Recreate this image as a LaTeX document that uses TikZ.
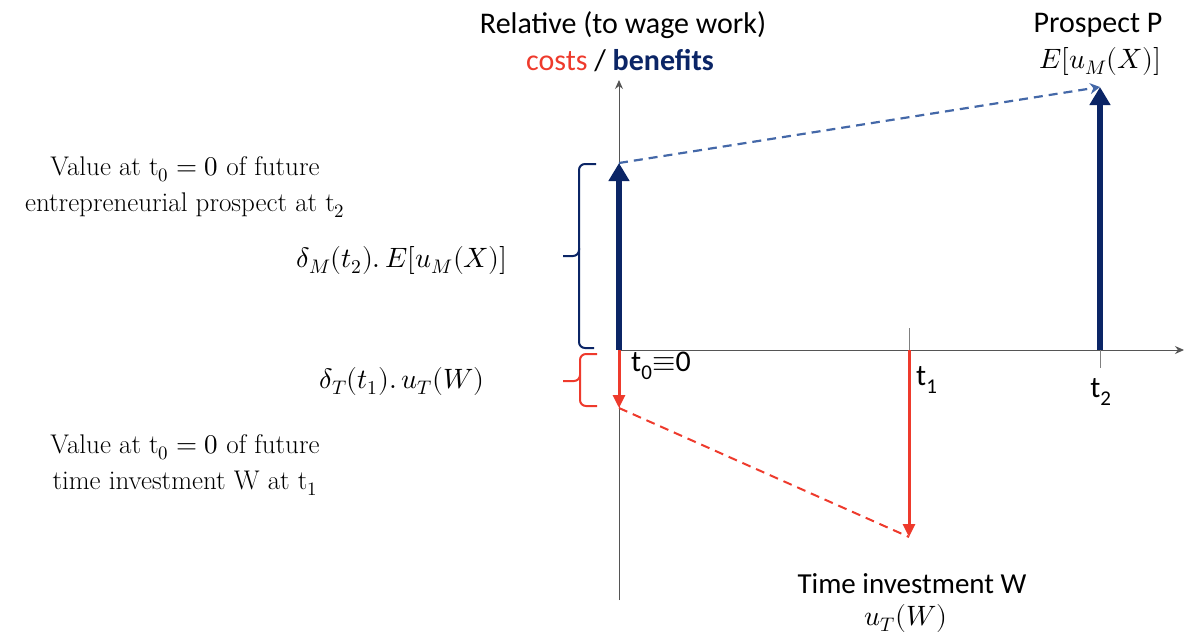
\documentclass[tikz,border=0pt]{standalone}
\usepackage{fontspec}
\usepackage{unicode-math}
\setmathfont{Latin Modern Math}
\setsansfont{Carlito}
\usetikzlibrary{arrows.meta}
\definecolor{navy}{HTML}{0B2566}
\definecolor{dblue}{HTML}{4468A8}
\definecolor{cred}{HTML}{EE3A2C}
\definecolor{axisgray}{HTML}{555555}
\begin{document}
\begin{tikzpicture}[x=1pt,y=-1pt,
  sanslbl/.style={font=\sffamily\fontsize{30}{36}\selectfont, inner sep=0pt, align=center},
  seriflbl/.style={font=\rmfamily\fontsize{27}{36}\selectfont, inner sep=0pt, align=center},
  mathlbl/.style={font=\fontsize{28}{32}\selectfont, inner sep=0pt},
  axisline/.style={draw=axisgray, line width=1pt},
  bluearrow/.style={draw=navy, line width=6pt, -{Triangle[width=20pt,length=18pt]}},
  redarrow/.style={draw=cred, line width=3pt, -{Triangle[width=12pt,length=13pt]}},
  bluedash/.style={draw=dblue, line width=2.2pt, dash pattern=on 9pt off 6pt, -{Stealth[width=11pt,length=10pt]}},
  reddash/.style={draw=cred, line width=2pt, dash pattern=on 9pt off 6pt},
  bracebl/.style={draw=navy, line width=2pt, rounded corners=6pt},
  bracerd/.style={draw=cred, line width=2pt, rounded corners=6pt}
]
\useasboundingbox (0,0) rectangle (1184,635);
% coordinates
\coordinate (O) at (619,350);
\coordinate (Ytop) at (619,80);
\coordinate (Ybot) at (619,600);
\coordinate (Xend) at (1184,350);
\coordinate (B0) at (619,163);
\coordinate (T2) at (1100,350);
\coordinate (T2bot) at (1100,368);
\coordinate (P) at (1100,87);
\coordinate (T1) at (909,350);
\coordinate (T1top) at (909,328);
\coordinate (W) at (909,537);
\coordinate (R0) at (619,408);
% axes
\draw[axisline, -{Stealth[width=8pt,length=9pt]}] (Ybot) -- (Ytop);
\draw[axisline, -{Stealth[width=8pt,length=9pt]}] (O) -- (Xend);
\draw[axisline, draw=gray] (T1top) -- (T1);
\draw[axisline, draw=gray] (T2) -- (T2bot);
% arrows
\draw[bluedash] (B0) -- (P);
\draw[reddash] (R0) -- (W);
\draw[bluearrow] (O) -- (B0);
\draw[bluearrow] (T2) -- (P);
\draw[redarrow] (O) -- (R0);
\draw[redarrow] (T1) -- (W);
% braces
\draw[bracebl] (596,164) -- (579,164) -- (579,256) -- (563,256);
\draw[bracebl] (579,248) -- (579,348) -- (594,348);
\draw[bracerd] (597,354) -- (580,354) -- (580,381) -- (563,381);
\draw[bracerd] (580,375) -- (580,406) -- (597,406);
% labels
\node[sanslbl] (title1) at (623,25) {Relative (to wage work)};
\node[sanslbl] (title2) at (620,61) {\textcolor{cred}{costs} / \textcolor{navy}{\bfseries benefits}};
\node[sanslbl] (pros1) at (1098,25) {Prospect P};
\node[mathlbl] (pros2) at (1100,61) {$E[u_M(X)]$};
\node[seriflbl] (val1) at (185,187) {Value at $\mathrm{t}_0=0$ of future\\entrepreneurial prospect at $\mathrm{t}_2$};
\node[mathlbl] (dm) at (402,260) {$\delta_M(t_2).\,E[u_M(X)]$};
\node[mathlbl] (dt) at (402,381) {$\delta_T(t_1).\,u_T(W)$};
\node[seriflbl] (val2) at (185,465) {Value at $\mathrm{t}_0=0$ of future\\time investment W at $\mathrm{t}_1$};
\node[sanslbl, anchor=west] (t0) at (631,366) {t\textsubscript{0}$\equiv$0};
\node[sanslbl, anchor=west] (t1) at (916,380) {t\textsubscript{1}};
\node[sanslbl] (t2) at (1101,392) {t\textsubscript{2}};
\node[sanslbl, font=\sffamily\fontsize{29}{34}\selectfont] (ti1) at (912,584) {Time investment W};
\node[mathlbl] (ti2) at (906,618) {$u_T(W)$};
\end{tikzpicture}
\end{document}
